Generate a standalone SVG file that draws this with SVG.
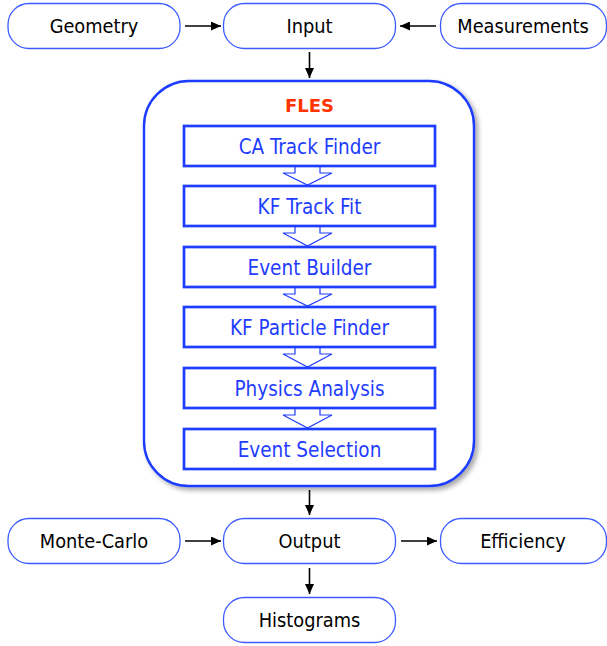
<svg xmlns="http://www.w3.org/2000/svg" width="607" height="646" viewBox="0 0 607 646">
<style>
.pill{fill:#fff;stroke:#3d5cff;stroke-width:1.3}
.box{fill:#fff;stroke:#1f3dff;stroke-width:2.7}
.blk{fill:#fff;stroke:#1f3dff;stroke-width:1.2;stroke-linejoin:miter}
.t{font-family:"DejaVu Sans Condensed","DejaVu Sans",sans-serif;font-size:19.8px;text-anchor:middle;fill:#000}
.bt{font-family:"DejaVu Sans Condensed","DejaVu Sans",sans-serif;font-size:20.5px;text-anchor:middle;fill:#1f3dff}
.ft{font-family:"DejaVu Sans","Verdana",sans-serif;font-weight:bold;font-size:18px;text-anchor:middle;fill:#ff3300}
.c{stroke:#000;stroke-width:1.6;fill:none;marker-end:url(#ah)}
</style>
<defs>
<marker id="ah" markerUnits="userSpaceOnUse" markerWidth="10" markerHeight="9" refX="10" refY="4.5" orient="auto">
<path d="M0,0 L10,4.5 L0,9 z" fill="#000"/>
</marker>
<filter id="sh" x="-10%" y="-10%" width="125%" height="125%">
<feGaussianBlur in="SourceAlpha" stdDeviation="2.5"/>
<feOffset dx="3" dy="3" result="b"/>
<feComponentTransfer><feFuncA type="linear" slope="0.35"/></feComponentTransfer>
<feMerge><feMergeNode/><feMergeNode in="SourceGraphic"/></feMerge>
</filter>
</defs>
<rect width="607" height="646" fill="#fff"/>

<g id="geometry"><rect class="pill" x="8" y="3.5" width="172" height="45" rx="21"/><text class="t" x="94" y="33">Geometry</text></g>
<g id="input"><rect class="pill" x="223.5" y="3.5" width="172" height="45" rx="21"/><text class="t" x="309.5" y="33">Input</text></g>
<g id="measurements"><rect class="pill" x="440.5" y="3.5" width="166" height="45" rx="21"/><text class="t" x="523" y="33">Measurements</text></g>

<g id="fles">
<rect x="144" y="81" width="330" height="405" rx="45" fill="#fff" stroke="#1f3dff" stroke-width="2.4" filter="url(#sh)"/>
<text class="ft" x="309.5" y="112">FLES</text>
</g>

<g id="stage-arrows">
<path class="blk" d="M295,166 L295,173 L283,173 L307.5,185 L332,173 L320,173 L320,166"/>
<path class="blk" d="M295,226 L295,233 L283,233 L307.5,246 L332,233 L320,233 L320,226"/>
<path class="blk" d="M295,287 L295,294 L283,294 L307.5,306 L332,294 L320,294 L320,287"/>
<path class="blk" d="M295,347 L295,354 L283,354 L307.5,367 L332,354 L320,354 L320,347"/>
<path class="blk" d="M295,408 L295,415 L283,415 L307.5,428 L332,415 L320,415 L320,408"/>
</g>

<g id="ca-track-finder"><rect class="box" x="184" y="126" width="251" height="40"/><text class="bt" x="309.5" y="154">CA Track Finder</text></g>
<g id="kf-track-fit"><rect class="box" x="184" y="186" width="251" height="40"/><text class="bt" x="309.5" y="214">KF Track Fit</text></g>
<g id="event-builder"><rect class="box" x="184" y="247" width="251" height="40"/><text class="bt" x="309.5" y="275">Event Builder</text></g>
<g id="kf-particle-finder"><rect class="box" x="184" y="307" width="251" height="40"/><text class="bt" x="309.5" y="335">KF Particle Finder</text></g>
<g id="physics-analysis"><rect class="box" x="184" y="368" width="251" height="40"/><text class="bt" x="309.5" y="396">Physics Analysis</text></g>
<g id="event-selection"><rect class="box" x="184" y="429" width="251" height="40"/><text class="bt" x="309.5" y="457">Event Selection</text></g>

<g id="monte-carlo"><rect class="pill" x="8" y="518.5" width="172" height="45" rx="21"/><text class="t" x="94" y="548">Monte-Carlo</text></g>
<g id="output"><rect class="pill" x="223.5" y="518.5" width="172" height="45" rx="21"/><text class="t" x="309.5" y="548">Output</text></g>
<g id="efficiency"><rect class="pill" x="440.5" y="518.5" width="166" height="45" rx="21"/><text class="t" x="523" y="548">Efficiency</text></g>
<g id="histograms"><rect class="pill" x="223.5" y="597.5" width="172" height="45" rx="21"/><text class="t" x="309.5" y="627">Histograms</text></g>

<g id="connectors">
<line class="c" x1="185" y1="26" x2="221" y2="26"/>
<line class="c" x1="436" y1="26" x2="400" y2="26"/>
<line class="c" x1="309.5" y1="52" x2="309.5" y2="78"/>
<line class="c" x1="309.5" y1="490" x2="309.5" y2="515"/>
<line class="c" x1="185" y1="541" x2="221" y2="541"/>
<line class="c" x1="401" y1="541" x2="437" y2="541"/>
<line class="c" x1="309.5" y1="568" x2="309.5" y2="594"/>
</g>
</svg>
